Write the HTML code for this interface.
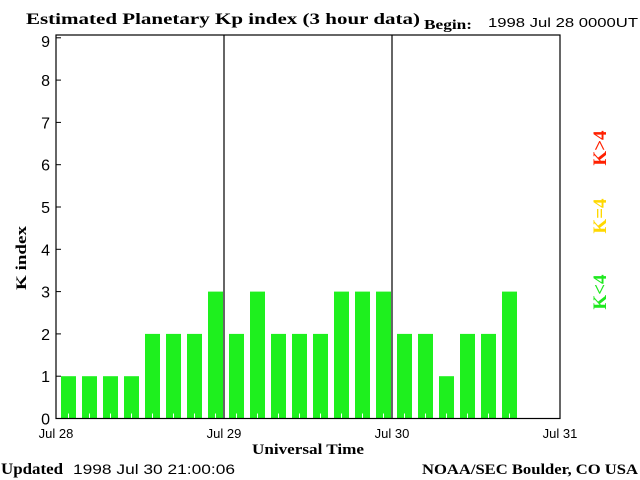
<!DOCTYPE html>
<html><head><meta charset="utf-8"><style>
html,body{margin:0;padding:0;background:#fff}
svg{display:block}
.ser{font-family:"Liberation Serif",serif;font-weight:bold;fill:#000}
.san{font-family:"Liberation Sans",sans-serif;fill:#000}
</style></head><body>
<svg id="chart" width="640" height="480" viewBox="0 0 640 480">
<text class="ser" x="26" y="24" font-size="16" textLength="394" lengthAdjust="spacingAndGlyphs">Estimated Planetary Kp index (3 hour data)</text>
<text class="ser" x="424" y="29" font-size="14" textLength="48" lengthAdjust="spacingAndGlyphs">Begin:</text>
<text class="san" x="488" y="27" font-size="13" textLength="150" lengthAdjust="spacingAndGlyphs">1998 Jul 28 0000UT</text>
<g id="plot"></g>
<text class="ser" x="26" y="258" font-size="15" transform="rotate(-90 26 258)" text-anchor="middle" textLength="64" lengthAdjust="spacingAndGlyphs">K index</text>
<text class="ser" x="308" y="454" font-size="15" text-anchor="middle" textLength="112" lengthAdjust="spacingAndGlyphs">Universal Time</text>
<text class="ser" x="1" y="474" font-size="16" textLength="62" lengthAdjust="spacingAndGlyphs">Updated</text>
<text class="san" x="73" y="474" font-size="14" textLength="162" lengthAdjust="spacingAndGlyphs">1998 Jul 30 21:00:06</text>
<text class="ser" x="638" y="474" font-size="15" text-anchor="end" textLength="216" lengthAdjust="spacingAndGlyphs">NOAA/SEC Boulder, CO USA</text>
<text class="ser" x="606" y="148" font-size="19" style="fill:#ff2000" text-anchor="middle" transform="rotate(-90 606 148)">K&gt;4</text>
<text class="ser" x="606" y="216" font-size="19" style="fill:#ffd800" text-anchor="middle" transform="rotate(-90 606 216)">K=4</text>
<text class="ser" x="606" y="292" font-size="19" style="fill:#1ee81e" text-anchor="middle" transform="rotate(-90 606 292)">K&lt;4</text>
</svg>
<script>
const kValues=[1,1,1,1,2,2,2,3,2,3,2,2,2,3,3,3,2,2,1,2,2,3];
const yTicks=[0,1,2,3,4,5,6,7,8,9];
const dayLabels=["Jul 28","Jul 29","Jul 30","Jul 31"];
const NS="http://www.w3.org/2000/svg";
const L=56,R=560,T=35,B=418.5,unit=42.3;
const slot=(R-L)/24;
const y=v=>B-v*unit;
const x=i=>L+i*slot;
const g=document.getElementById('plot');
function mk(t,a){const e=document.createElementNS(NS,t);for(const k in a)e.setAttribute(k,a[k]);g.appendChild(e);return e;}
kValues.forEach((v,i)=>{
 const c=v<4?'#1ef01e':(v==4?'#ffd800':'#ff2000');
 const r=mk('rect',{x:x(i)+5,y:y(v),width:15,height:B-y(v),fill:c});
 
 
});
for(let i=0;i<24;i++){const l=mk('line',{x1:x(i)+12.5,x2:x(i)+12.5,y1:B-5,y2:B,stroke:'#fff','stroke-width':1});
 
 }
const box=mk('rect',{x:L,y:T,width:R-L,height:B-T,fill:'none',stroke:'#000','stroke-width':1.2});


[1,2].forEach(d=>{const l=mk('line',{x1:L+d*8*slot,x2:L+d*8*slot,y1:T,y2:B,stroke:'#000','stroke-width':1.2});
 
 });
yTicks.forEach(v=>{
 const l=mk('line',{x1:L,x2:L+5,y1:y(v),y2:y(v),stroke:'#000'});
 
 
 const t=mk('text',{x:L-6,y:Math.max(y(v)+6,47),'text-anchor':'end','font-size':16,'class':'san'});
 t.textContent=v;
 
 
});
dayLabels.forEach((s,d)=>{
 const t=mk('text',{x:L+d*8*slot,y:438,'text-anchor':'middle','font-size':13,'class':'san'});
 t.textContent=s;
 
 
});
</script>
</body></html>
